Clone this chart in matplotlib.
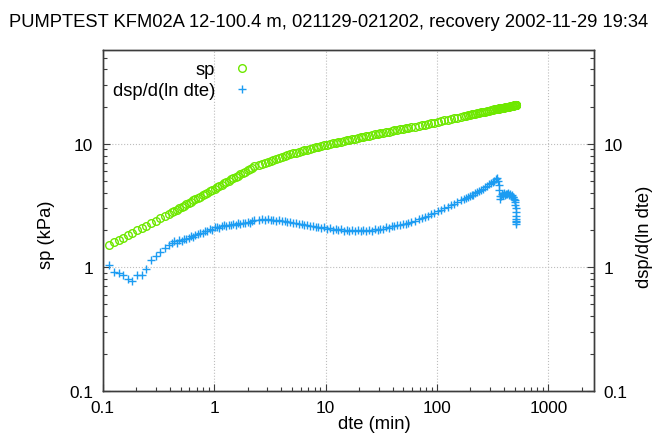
import matplotlib.pyplot as plt
from matplotlib.ticker import FixedLocator, FixedFormatter, LogLocator, NullFormatter

plt.rcParams['font.family'] = ['Liberation Sans', 'DejaVu Sans']
plt.rcParams['font.size'] = 13.2

title = "PUMPTEST KFM02A 12-100.4 m, 021129-021202, recovery 2002-11-29 19:34"

# recovery time since pump stop (min)
dte = [0.115, 0.126, 0.139, 0.153, 0.168, 0.185, 0.203, 0.224, 0.246, 0.271, 0.298, 0.327, 0.36, 0.396,
       0.42, 0.44, 0.46, 0.485, 0.51, 0.535, 0.56, 0.59, 0.62, 0.65, 0.68, 0.72, 0.75, 0.79, 0.83, 0.87,
       0.92, 0.96, 1.01, 1.06, 1.11, 1.17, 1.23, 1.29, 1.35, 1.42, 1.49, 1.56, 1.64, 1.72, 1.81, 1.9,
       2.0, 2.1, 2.2, 2.3,
       2.55, 2.7, 2.86, 3.03, 3.21, 3.4, 3.6, 3.82, 4.05, 4.3, 4.55, 4.82, 5.1, 5.4, 5.75, 6.1, 6.45,
       6.85, 7.25, 7.7, 8.15, 8.65, 9.15, 9.7, 10.3, 10.9, 11.6, 12.3, 13, 13.8, 14.6, 15.5, 16.4, 17.4,
       18.4, 19.5, 20.7, 21.9, 23.2, 24.6, 26.1, 27.7, 29.3, 31.1, 33, 35, 37, 39.2, 41.6, 44.1, 46.7,
       49.5, 52.5, 55.6, 59,
       64, 68.5, 73, 78, 83.5, 89, 95, 102, 109, 117, 125, 134, 143, 153, 164,
       175, 182, 189, 197, 205, 213, 222, 231, 240, 250, 260, 270, 281, 292, 304, 316, 329, 342, 350,
       356, 360, 364, 368, 372, 378, 385, 393, 400, 408, 416, 425, 433, 442, 450, 459, 468, 478, 487,
       494, 500, 504, 507, 510, 512, 514, 515, 516, 517, 518]

# recovery sp (kPa)
sp = [1.52, 1.59, 1.66, 1.74, 1.82, 1.90, 1.99, 2.08, 2.17, 2.28, 2.38, 2.49, 2.60, 2.72,
      2.80, 2.86, 2.93, 3.01, 3.08, 3.16, 3.23, 3.32, 3.40, 3.48, 3.56, 3.66, 3.74, 3.84, 3.93, 4.03,
      4.14, 4.23, 4.34, 4.44, 4.55, 4.67, 4.79, 4.90, 5.01, 5.14, 5.27, 5.39, 5.52, 5.66, 5.81, 5.94,
      6.10, 6.25, 6.40, 6.55,
      6.76, 6.88, 7.00, 7.13, 7.26, 7.39, 7.53, 7.67, 7.82, 7.97, 8.11, 8.26, 8.37, 8.49, 8.61, 8.73,
      8.85, 8.97, 9.10, 9.22, 9.34, 9.46, 9.59, 9.72, 9.85, 9.96, 10.09, 10.21, 10.31, 10.44, 10.55,
      10.67, 10.79, 10.92, 11.04, 11.16, 11.29, 11.40, 11.53, 11.65, 11.78, 11.91, 12.03, 12.16, 12.30,
      12.42, 12.56, 12.68, 12.82, 12.95, 13.07, 13.20, 13.33, 13.46, 13.60,
      13.80, 13.96, 14.13, 14.32, 14.49, 14.66, 14.86, 15.07, 15.25, 15.49, 15.68, 15.89, 16.11, 16.33,
      16.56,
      16.79, 16.90, 17.02, 17.18, 17.30, 17.42, 17.58, 17.70, 17.82, 17.99, 18.11, 18.24, 18.41, 18.54,
      18.66, 18.79, 18.97, 19.10, 19.18, 19.23, 19.28, 19.33, 19.38, 19.42, 19.47, 19.54, 19.60, 19.68,
      19.75, 19.82, 19.88, 19.95, 20.05, 20.14, 20.20, 20.28, 20.36, 20.42, 20.47, 20.52, 20.55, 20.58,
      20.61, 20.63, 20.64, 20.65, 20.66, 20.67, 20.68]

# log derivative dsp/d(ln dte) (kPa)
dsp = [1.04, 0.92, 0.90, 0.86, 0.81, 0.77, 0.86, 0.87, 0.97, 1.14, 1.24, 1.34, 1.42, 1.52,
       1.56, 1.62, 1.58, 1.66, 1.64, 1.70, 1.68, 1.74, 1.78, 1.76, 1.84, 1.86, 1.90, 1.88, 1.96, 1.98,
       2.04, 2.02, 2.10, 2.12, 2.08, 2.16, 2.18, 2.14, 2.22, 2.20, 2.24, 2.22, 2.28, 2.26, 2.30, 2.28,
       2.34, 2.30, 2.36, 2.40,
       2.42, 2.46, 2.42, 2.44, 2.40, 2.43, 2.38, 2.40, 2.35, 2.36, 2.31, 2.32, 2.27, 2.28, 2.23, 2.24,
       2.19, 2.20, 2.15, 2.16, 2.11, 2.13, 2.08, 2.10, 2.05, 2.07, 2.02, 2.05, 2.00, 2.03, 1.98, 2.02,
       1.97, 2.01, 1.96, 2.00, 1.95, 2.00, 1.96, 2.01, 1.98, 2.03, 2.00, 2.06, 2.04, 2.10, 2.08, 2.15,
       2.14, 2.20, 2.20, 2.25, 2.26, 2.30, 2.32,
       2.38, 2.44, 2.50, 2.56, 2.62, 2.70, 2.76, 2.84, 2.92, 3.00, 3.08, 3.18, 3.28, 3.38, 3.48,
       3.58, 3.62, 3.70, 3.76, 3.82, 3.88, 3.96, 4.04, 4.14, 4.22, 4.34, 4.46, 4.56, 4.70, 4.82, 4.92,
       5.02, 5.16, 5.24, 5.00, 4.60, 4.20, 3.80, 3.55, 3.80, 3.95, 3.88, 3.96, 3.86, 3.94, 3.90, 3.96,
       3.86, 3.92, 3.80, 3.84, 3.72, 3.68, 3.56, 3.50, 3.36, 3.20, 3.00, 2.80, 2.60, 2.45, 2.32, 2.25,
       2.38]

x_ticks = [0.1, 1, 10, 100, 1000]
x_labels = ["0.1", "1", "10", "100", "1000"]
y_ticks = [0.1, 1, 10]
y_labels = ["0.1", "1", "10"]

green = "#6ee800"
blue = "#1c9cf2"
frame = "#3c3c3c"
tick_font = 12.4


def style_log_axis(axis, ticks, labels):
    axis.set_major_locator(FixedLocator(ticks))
    axis.set_major_formatter(FixedFormatter(labels))
    axis.set_minor_locator(LogLocator(base=10, subs=range(2, 10)))
    axis.set_minor_formatter(NullFormatter())


fig = plt.figure(figsize=(6.56, 4.35), dpi=100)
ax = fig.add_axes([0.1566, 0.0995, 0.7485, 0.7832])
ax2 = ax.twinx()

for a in (ax, ax2):
    a.set_xscale('log')
    a.set_yscale('log')
    a.set_xlim(0.1, 2560)
    a.set_ylim(0.1, 57.5)
    for s in a.spines.values():
        s.set_color(frame)
        s.set_linewidth(1.0)

style_log_axis(ax.xaxis, x_ticks, x_labels)
style_log_axis(ax.yaxis, y_ticks, y_labels)
style_log_axis(ax2.yaxis, y_ticks, y_labels)

ax.tick_params(which='both', direction='in', top=False, right=False, color=frame,
               labelsize=tick_font)
ax.tick_params(axis='y', which='major', length=5, width=0.8, pad=7)
ax.tick_params(axis='x', which='major', length=5, width=0.8, pad=7)
ax.tick_params(which='minor', length=2.7, width=0.8)
ax2.tick_params(which='both', direction='in', left=False, color=frame, labelsize=tick_font)
ax2.tick_params(axis='y', which='major', length=5, width=0.8, pad=7)
ax2.tick_params(axis='y', which='minor', length=2.7, width=0.8)

ax.grid(True, which='major', linestyle=':', color='#bdbdbd', linewidth=0.8)
ax.set_axisbelow(True)

line_sp, = ax.plot(dte, sp, linestyle='none', marker='o', markersize=5.5,
                   markerfacecolor='none', markeredgecolor=green, markeredgewidth=1.0,
                   label='sp')
line_dsp, = ax2.plot(dte, dsp, linestyle='none', marker='+', markersize=6,
                     color=blue, markeredgewidth=1.0, label='dsp/d(ln dte)')

ax2.legend([line_sp, line_dsp], ['sp', 'dsp/d(ln dte)'], loc='upper right',
           bbox_to_anchor=(0.307, 0.967), markerfirst=False, frameon=False,
           handlelength=1.2, handletextpad=0.9, labelspacing=0.2,
           borderpad=0, borderaxespad=0, numpoints=1)

ax.set_xlabel('dte (min)', va='center')
ax.xaxis.set_label_coords(0.5525, -0.097)
ax.set_ylabel('sp (kPa)', va='center')
ax.yaxis.set_label_coords(-0.115, 0.46)
ax2.set_ylabel('dsp/d(ln dte)', rotation=90, va='center')
ax2.yaxis.set_label_coords(1.104, 0.455)

fig.text(0.014, 0.949, title, ha='left', va='center', fontsize=13.2)

fig.savefig('out.png', dpi=100)
